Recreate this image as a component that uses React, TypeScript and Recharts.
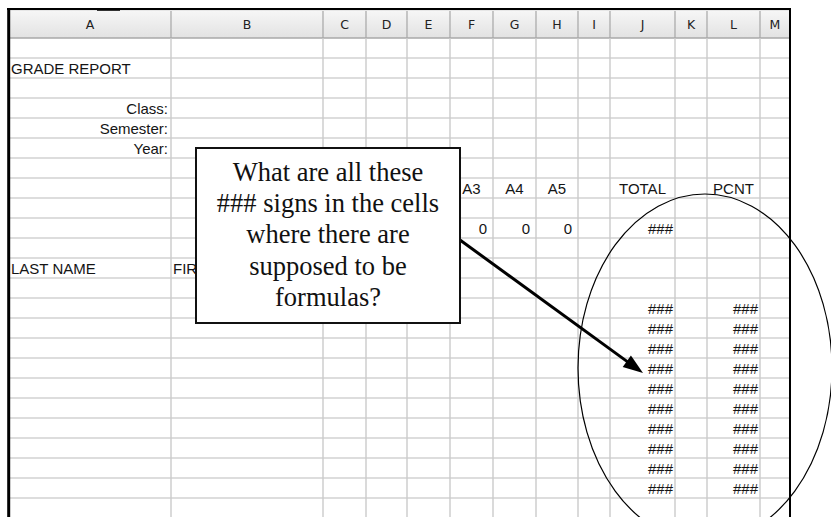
import React from "react";
import {
  ComposedChart,
  XAxis,
  YAxis,
  Scatter,
  Line,
  ReferenceLine,
  ReferenceArea,
} from "recharts";

const W = 831;
const H = 517;

// sheet layout: column letters and their edges in page pixels
const columns = ["A", "B", "C", "D", "E", "F", "G", "H", "I", "J", "K", "L", "M"];
const colEdges = [9, 171, 323, 366, 407, 450, 493, 536, 578, 610, 675, 707, 760, 790];
const headerTop = 11;
const rowTop = 38;
const rowH = 20;
const rowCount = 24;

// cell contents
const title = "GRADE REPORT";
const infoLabels = ["Class:", "Semester:", "Year:"];
const scoreHeaders = ["A3", "A4", "A5"];
const summaryHeaders = ["TOTAL", "PCNT"];
const maxScores = [0, 0, 0];
const maxTotal = "###";
const nameHeaders = ["LAST NAME", "FIR"];
const totalCol = ["###", "###", "###", "###", "###", "###", "###", "###", "###", "###"];
const pcntCol = ["###", "###", "###", "###", "###", "###", "###", "###", "###", "###"];

// annotation
const calloutLines = [
  "What are all these",
  "### signs in the cells",
  "where there are",
  "supposed to be",
  "formulas?",
];

const colIdx = (c: string) => columns.indexOf(c);
const rowMid = (r: number) => rowTop + rowH * (r - 1) + rowH / 2;

type Cell = { x: number; y: number; text: string; anchor: string };

const cell = (col: string, row: number, text: string, align: string, pad = 2): Cell => {
  const i = colIdx(col);
  const l = colEdges[i];
  const r = colEdges[i + 1];
  const x = align === "left" ? l + pad : align === "right" ? r - pad : (l + r) / 2;
  const anchor = align === "left" ? "start" : align === "right" ? "end" : "middle";
  return { x, y: rowMid(row), text, anchor };
};

const cells: Cell[] = [
  cell("A", 2, title, "left"),
  ...infoLabels.map((t, i) => cell("A", 4 + i, t, "right", 3)),
  ...scoreHeaders.map((t, i) => cell(["F", "G", "H"][i], 8, t, "center")),
  cell("J", 8, summaryHeaders[0], "center"),
  cell("L", 8, summaryHeaders[1], "center"),
  ...maxScores.map((v, i) => cell(["F", "G", "H"][i], 10, String(v), "right", 6)),
  cell("J", 10, maxTotal, "right"),
  cell("A", 12, nameHeaders[0], "left"),
  cell("B", 12, nameHeaders[1], "left"),
  ...totalCol.map((t, i) => cell("J", 14 + i, t, "right")),
  ...pcntCol.map((t, i) => cell("L", 14 + i, t, "right", 2)),
];

const headerCells = columns.map((c, i) => ({
  x: (colEdges[i] + colEdges[i + 1]) / 2,
  y: (headerTop + rowTop) / 2,
  text: c,
}));

const box = [{ x: 196, y: 148, x2: 460, y2: 323 }];
const calloutPts = calloutLines.map((t, i) => ({ x: 328, y: 180.5 + i * 31.4, text: t }));

const arrowFrom = { x: 460, y: 240 };
const arrowTo = { x: 643, y: 373 };
const ellipse = [{ x: 705, y: 368, rx: 127, ry: 174 }];

const rowLines = Array.from({ length: rowCount + 1 }, (_, k) => rowTop + rowH * k);

const CellText = (p: any) => (
  <text
    x={p.cx}
    y={p.cy + 5.5}
    textAnchor={p.payload.anchor}
    fontFamily="'Liberation Sans', Arial, sans-serif"
    fontSize={15}
    fill="#151515"
  >
    {p.payload.text}
  </text>
);

const HeaderText = (p: any) => (
  <text
    x={p.cx}
    y={p.cy + 4.5}
    textAnchor="middle"
    fontFamily="'DejaVu Sans', Tahoma, sans-serif"
    fontSize={12.5}
    fill="#222"
  >
    {p.payload.text}
  </text>
);

const BoxShape = (p: any) => (
  <rect
    x={p.cx}
    y={p.cy}
    width={p.payload.x2 - p.payload.x}
    height={p.payload.y2 - p.payload.y}
    fill="#fff"
    stroke="#111"
    strokeWidth={2}
  />
);

const CalloutText = (p: any) => (
  <text
    x={p.cx}
    y={p.cy}
    textAnchor="middle"
    fontFamily="'Liberation Serif', 'Times New Roman', serif"
    fontSize={26.5}
    fill="#111"
  >
    {p.payload.text}
  </text>
);

const ArrowHead = (p: any) => {
  const dx = arrowTo.x - arrowFrom.x;
  const dy = arrowTo.y - arrowFrom.y;
  const len = Math.hypot(dx, dy);
  const ux = dx / len;
  const uy = dy / len;
  const bx = p.cx - ux * 20;
  const by = p.cy - uy * 20;
  const pts = [
    [p.cx, p.cy],
    [bx - uy * 7, by + ux * 7],
    [bx + uy * 7, by - ux * 7],
  ];
  return <polygon points={pts.map((q) => q.join(",")).join(" ")} fill="#000" />;
};

const EllipseShape = (p: any) => (
  <ellipse cx={p.cx} cy={p.cy} rx={p.payload.rx} ry={p.payload.ry} fill="none" stroke="#000" strokeWidth={1.2} />
);

export default function App() {
  const len = Math.hypot(arrowTo.x - arrowFrom.x, arrowTo.y - arrowFrom.y);
  const arrowLine = [
    arrowFrom,
    {
      x: arrowTo.x - ((arrowTo.x - arrowFrom.x) / len) * 16,
      y: arrowTo.y - ((arrowTo.y - arrowFrom.y) / len) * 16,
    },
  ];
  return (
    <div style={{ position: "absolute", left: 0, top: 0, width: W, height: H, background: "#fff", overflow: "hidden" }}>
      <ComposedChart width={W} height={H} margin={{ top: 0, right: 0, bottom: 0, left: 0 }}>
        <defs>
          <linearGradient id="hdr" x1="0" y1="0" x2="0" y2="1">
            <stop offset="0%" stopColor="#f6f6f6" />
            <stop offset="100%" stopColor="#e2e2e2" />
          </linearGradient>
        </defs>
        <XAxis type="number" dataKey="x" domain={[0, W]} hide allowDataOverflow />
        <YAxis type="number" dataKey="y" domain={[0, H]} reversed hide allowDataOverflow />

        {/* toolbar remnant above the sheet */}
        <ReferenceArea x1={9} x2={790} y1={9} y2={11.5} fill="#e6e6e6" fillOpacity={1} stroke="none" ifOverflow="visible" />
        <ReferenceArea x1={97} x2={120} y1={9.5} y2={11} fill="#333" fillOpacity={1} stroke="none" ifOverflow="visible" />

        {/* column header strip */}
        <ReferenceArea x1={9} x2={790} y1={headerTop} y2={rowTop} fill="url(#hdr)" fillOpacity={1} stroke="none" ifOverflow="visible" />

        {rowLines.map((y) => (
          <ReferenceLine
            key={"r" + y}
            segment={[{ x: 9, y }, { x: 790, y }]}
            stroke={y === rowTop ? "#a9a9a9" : "#d2d2d2"}
            strokeWidth={1.6}
            ifOverflow="visible"
          />
        ))}
        {colEdges.slice(1, -1).map((x) => (
          <ReferenceLine
            key={"c" + x}
            segment={[{ x, y: rowTop }, { x, y: H }]}
            stroke="#cbcbcb"
            strokeWidth={1.4}
            ifOverflow="visible"
          />
        ))}
        {colEdges.slice(1, -1).map((x) => (
          <ReferenceLine
            key={"h" + x}
            segment={[{ x, y: headerTop }, { x, y: rowTop }]}
            stroke="#a6a6a6"
            strokeWidth={1.2}
            ifOverflow="visible"
          />
        ))}

        {/* sheet frame */}
        <ReferenceLine segment={[{ x: 7, y: 9 }, { x: 791, y: 9 }]} stroke="#000" strokeWidth={2} ifOverflow="visible" />
        <ReferenceLine segment={[{ x: 8.7, y: 8 }, { x: 8.7, y: H }]} stroke="#000" strokeWidth={3} ifOverflow="visible" />
        <ReferenceLine segment={[{ x: 790, y: 8 }, { x: 790, y: H }]} stroke="#000" strokeWidth={2} ifOverflow="visible" />

        <Scatter data={headerCells} shape={HeaderText} isAnimationActive={false} />
        <Scatter data={cells} shape={CellText} isAnimationActive={false} />

        {/* callout */}
        <Scatter data={box} shape={BoxShape} isAnimationActive={false} />
        <Scatter data={calloutPts} shape={CalloutText} isAnimationActive={false} />

        <Line
          data={arrowLine}
          dataKey="y"
          stroke="#000"
          strokeWidth={3}
          dot={false}
          activeDot={false}
          isAnimationActive={false}
        />
        <Scatter data={[arrowTo]} shape={ArrowHead} isAnimationActive={false} />
        <Scatter data={ellipse} shape={EllipseShape} isAnimationActive={false} />
      </ComposedChart>
    </div>
  );
}
